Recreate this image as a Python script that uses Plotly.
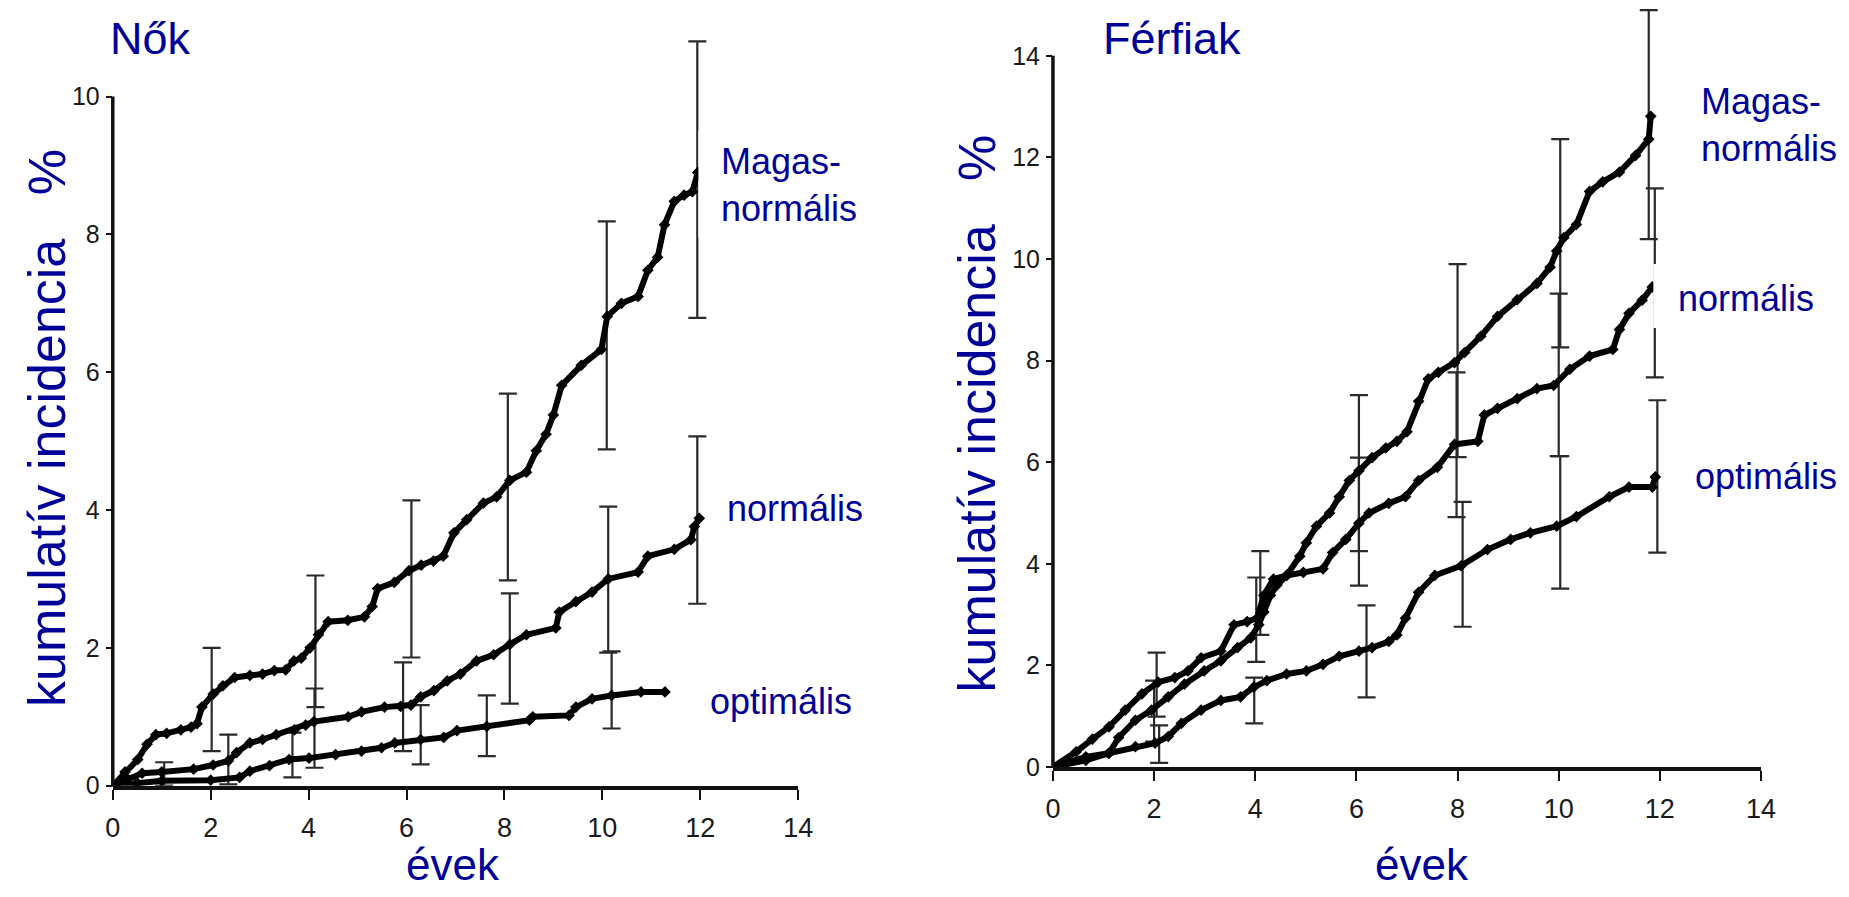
import plotly.graph_objects as go

# ------------------------------------------------------------------ data
x_ticks = [0, 2, 4, 6, 8, 10, 12, 14]
nok_y_ticks = [0, 2, 4, 6, 8, 10]
ferfi_y_ticks = [0, 2, 4, 6, 8, 10, 12, 14]

panel_titles = ["Nők", "Férfiak"]
x_title = "évek"
y_title = "kumulatív incidencia \u00a0\u00a0%"
label_magas = "Magas-<br>normális"
label_normal = "normális"
label_optimal = "optimális"

# Nők (women) – cumulative incidence curves
nok_magas_x = [0, 0.25, 0.51, 0.7, 0.88, 1.1, 1.39, 1.6, 1.72, 1.82, 2.05, 2.25, 2.49, 2.8, 3.06, 3.3,
               3.53, 3.7, 3.85, 4.03, 4.2, 4.4, 4.8, 5.14, 5.3, 5.41, 5.75, 6.05, 6.3, 6.55, 6.75, 6.97,
               7.23, 7.57, 7.84, 8.11, 8.45, 8.65, 8.85, 9.0, 9.17, 9.57, 9.98, 10.1, 10.39, 10.73, 10.93,
               11.13, 11.27, 11.47, 11.67, 11.84, 11.95]
nok_magas_y = [0, 0.2, 0.38, 0.6, 0.74, 0.76, 0.81, 0.85, 0.9, 1.14, 1.33, 1.45, 1.57, 1.6, 1.62, 1.67,
               1.68, 1.81, 1.85, 2.0, 2.19, 2.38, 2.4, 2.45, 2.6, 2.86, 2.95, 3.12, 3.2, 3.26, 3.33, 3.67,
               3.86, 4.1, 4.19, 4.43, 4.55, 4.86, 5.1, 5.38, 5.81, 6.1, 6.33, 6.81, 7.0, 7.1, 7.48,
               7.67, 8.14, 8.48, 8.57, 8.62, 8.9]

nok_normal_x = [0, 0.3, 0.6, 1.0, 1.65, 2.05, 2.36, 2.53, 2.8, 3.06, 3.34, 3.71, 3.94, 4.11, 4.81, 5.08,
                5.55, 5.88, 6.09, 6.29, 6.56, 6.83, 7.1, 7.43, 7.78, 8.11, 8.45, 9.05, 9.12, 9.46, 9.79,
                10.12, 10.73, 10.93, 11.47, 11.81, 11.88, 11.98]
nok_normal_y = [0, 0.1, 0.18, 0.2, 0.24, 0.3, 0.36, 0.48, 0.62, 0.67, 0.74, 0.81, 0.88, 0.93, 1.0, 1.07,
                1.14, 1.15, 1.17, 1.29, 1.38, 1.52, 1.62, 1.81, 1.9, 2.05, 2.19, 2.29, 2.52, 2.67, 2.81,
                3.0, 3.1, 3.33, 3.43, 3.57, 3.76, 3.88]

nok_optimal_x = [0, 0.5, 1.0, 2.0, 2.59, 2.8, 3.2, 3.6, 4.01, 4.55, 5.08, 5.49, 5.76, 6.29, 6.76, 7.03,
                 7.64, 8.51, 8.58, 9.32, 9.46, 9.79, 10.19, 10.79, 11.28]
nok_optimal_y = [0, 0.04, 0.07, 0.08, 0.12, 0.21, 0.29, 0.38, 0.4, 0.45, 0.5, 0.55, 0.62, 0.67, 0.7, 0.8,
                 0.86, 0.95, 1.0, 1.02, 1.14, 1.26, 1.31, 1.36, 1.36]

# Nők – confidence intervals (x, lower, upper)
nok_magas_err_x = [2.02, 4.14, 6.1, 8.07, 10.09, 11.94]
nok_magas_err_lo = [0.5, 1.14, 1.86, 2.98, 4.88, 6.79]
nok_magas_err_hi = [2.0, 3.05, 4.14, 5.69, 8.19, 10.8]

nok_normal_err_x = [2.36, 4.12, 5.93, 8.11, 10.12, 11.94]
nok_normal_err_lo = [0.02, 0.26, 0.5, 1.19, 1.93, 2.64]
nok_normal_err_hi = [0.74, 1.41, 1.79, 2.79, 4.05, 5.07]

nok_optimal_err_x = [1.05, 3.67, 6.29, 7.64, 10.19]
nok_optimal_err_lo = [0.0, 0.12, 0.31, 0.43, 0.83]
nok_optimal_err_hi = [0.34, 0.77, 1.17, 1.31, 1.95]

# Férfiak (men) – cumulative incidence curves
ferfi_magas_x = [0, 0.65, 1.11, 1.3, 1.63, 1.95, 2.28, 2.6, 2.99, 3.32, 3.65, 3.91, 4.07, 4.17, 4.3, 4.43,
                 4.62, 4.88, 5.01, 5.21, 5.47, 5.66, 5.86, 6.05, 6.31, 6.58, 6.8, 7.0, 7.23, 7.42, 7.62,
                 7.94, 8.14, 8.46, 8.79, 9.18, 9.57, 9.83, 9.96, 10.1, 10.35, 10.61, 10.87, 11.2, 11.52,
                 11.78, 11.82]
ferfi_magas_y = [0, 0.13, 0.27, 0.58, 0.92, 1.12, 1.38, 1.63, 1.89, 2.09, 2.35, 2.54, 2.8, 3.05, 3.38, 3.58,
                 3.77, 4.15, 4.41, 4.74, 5.0, 5.32, 5.64, 5.83, 6.09, 6.28, 6.41, 6.6, 7.2, 7.64, 7.77,
                 7.96, 8.16, 8.48, 8.87, 9.2, 9.52, 9.84, 10.16, 10.42, 10.68, 11.33, 11.52, 11.71, 12.04,
                 12.36, 12.81]

ferfi_normal_x = [0, 0.46, 0.78, 1.11, 1.43, 1.76, 2.08, 2.41, 2.67, 2.93, 3.32, 3.58, 3.84, 4.04, 4.17,
                  4.36, 4.62, 4.95, 5.34, 5.53, 5.79, 6.05, 6.25, 6.64, 6.97, 7.23, 7.6, 7.94, 8.4, 8.53,
                  8.79, 9.18, 9.57, 9.9, 10.22, 10.61, 11.07, 11.2, 11.39, 11.65, 11.85]
ferfi_normal_y = [0, 0.3, 0.55, 0.79, 1.12, 1.44, 1.67, 1.76, 1.89, 2.15, 2.28, 2.8, 2.86, 2.93, 3.38,
                  3.7, 3.77, 3.83, 3.9, 4.22, 4.48, 4.8, 5.0, 5.19, 5.32, 5.64, 5.9, 6.35, 6.41, 6.93,
                  7.06, 7.25, 7.45, 7.51, 7.83, 8.09, 8.22, 8.61, 8.93, 9.19, 9.45]

ferfi_optimal_x = [0, 0.65, 1.1, 1.63, 2.02, 2.28, 2.54, 2.93, 3.32, 3.71, 3.97, 4.23, 4.62, 5.01, 5.34,
                   5.66, 6.05, 6.31, 6.64, 6.8, 6.97, 7.23, 7.55, 8.07, 8.59, 9.05, 9.44, 9.96, 10.35,
                   11.0, 11.39, 11.85, 11.91]
ferfi_optimal_y = [0, 0.2, 0.27, 0.4, 0.47, 0.6, 0.86, 1.12, 1.31, 1.38, 1.57, 1.7, 1.83, 1.89, 2.02,
                   2.18, 2.28, 2.35, 2.47, 2.6, 2.93, 3.44, 3.77, 3.96, 4.28, 4.48, 4.61, 4.74, 4.93,
                   5.32, 5.51, 5.51, 5.71]

# Férfiak – confidence intervals (x, lower, upper)
ferfi_magas_err_x = [2.0, 4.1, 6.05, 8.0, 10.03, 11.78]
ferfi_magas_err_lo = [0.5, 2.6, 4.25, 6.1, 8.26, 10.39]
ferfi_magas_err_hi = [1.7, 4.25, 7.32, 9.9, 12.36, 14.9]

ferfi_normal_err_x = [2.05, 4.02, 6.05, 7.98, 10.0, 11.9]
ferfi_normal_err_lo = [0.99, 2.07, 3.57, 4.92, 6.12, 7.67]
ferfi_normal_err_hi = [2.25, 3.73, 6.09, 7.77, 9.32, 11.39]

ferfi_optimal_err_x = [2.1, 3.98, 6.2, 8.1, 10.03, 11.95]
ferfi_optimal_err_lo = [0.08, 0.86, 1.37, 2.76, 3.51, 4.22]
ferfi_optimal_err_hi = [0.82, 1.76, 3.18, 5.22, 6.12, 7.22]

# ------------------------------------------------------------------ layout helpers
W, H = 1849, 897


def px(x):
    return x / W


def py(y):
    return 1 - y / H


BLUE = "#000099"
TXT_FONT = "Liberation Sans, Arial, Helvetica, sans-serif"
TICK_FONT = "Liberation Sans, Arial, sans-serif"
INK = "#111111"

fig = go.Figure()


def add_err(xs, lo, hi, xa, ya):
    mid = [(a + b) / 2 for a, b in zip(lo, hi)]
    fig.add_trace(go.Scatter(
        x=xs, y=mid, mode="markers", xaxis=xa, yaxis=ya,
        marker=dict(size=1, color="rgba(0,0,0,0)"),
        error_y=dict(type="data", symmetric=False,
                     array=[h - m for h, m in zip(hi, mid)],
                     arrayminus=[m - l for m, l in zip(mid, lo)],
                     color="#2a2a2a", thickness=2.2, width=9),
        showlegend=False, hoverinfo="skip"))


def add_curve(xs, ys, xa, ya):
    fig.add_trace(go.Scatter(
        x=xs, y=ys, mode="lines+markers", xaxis=xa, yaxis=ya,
        line=dict(color="black", width=6),
        marker=dict(symbol="diamond", size=9, color="black"),
        showlegend=False, hoverinfo="skip"))


add_err(nok_magas_err_x, nok_magas_err_lo, nok_magas_err_hi, "x", "y")
add_err(nok_normal_err_x, nok_normal_err_lo, nok_normal_err_hi, "x", "y")
add_err(nok_optimal_err_x, nok_optimal_err_lo, nok_optimal_err_hi, "x", "y")
add_curve(nok_magas_x, nok_magas_y, "x", "y")
add_curve(nok_normal_x, nok_normal_y, "x", "y")
add_curve(nok_optimal_x, nok_optimal_y, "x", "y")

add_err(ferfi_magas_err_x, ferfi_magas_err_lo, ferfi_magas_err_hi, "x2", "y2")
add_err(ferfi_normal_err_x, ferfi_normal_err_lo, ferfi_normal_err_hi, "x2", "y2")
add_err(ferfi_optimal_err_x, ferfi_optimal_err_lo, ferfi_optimal_err_hi, "x2", "y2")
add_curve(ferfi_magas_x, ferfi_magas_y, "x2", "y2")
add_curve(ferfi_normal_x, ferfi_normal_y, "x2", "y2")
add_curve(ferfi_optimal_x, ferfi_optimal_y, "x2", "y2")

# pixel geometry of the two panels
L_X0, L_X1, L_Y0, L_UNIT = 98, 792, 790, 70.0
R_X0, R_X1, R_Y0, R_UNIT = 1050, 1767, 771, 51.6
L_TOP = 11.2
R_TOP = R_Y0 / R_UNIT

xaxis_common = dict(range=[0, 14], tickvals=x_ticks, ticks="outside", ticklen=10, tickwidth=2,
                    tickcolor=INK, showline=True, linewidth=4, linecolor=INK, showgrid=False,
                    zeroline=False, ticklabelstandoff=5,
                    tickfont=dict(family=TICK_FONT, size=27, color="#1a1a1a"))
yaxis_common = dict(ticks="outside", ticklen=6, tickwidth=2, tickcolor=INK, showline=False,
                    showgrid=False, zeroline=False, ticklabelstandoff=1,
                    tickfont=dict(family=TICK_FONT, size=25, color="#1a1a1a"))

fig.update_layout(
    width=W, height=H, autosize=False,
    margin=dict(l=0, r=0, t=0, b=0),
    paper_bgcolor="white", plot_bgcolor="white",
    hovermode=False,
    xaxis=dict(domain=[px(L_X0), px(L_X1)], anchor="y", **xaxis_common),
    yaxis=dict(domain=[py(L_Y0), py(L_Y0 - L_TOP * L_UNIT)], anchor="x",
               range=[0, L_TOP], tickvals=nok_y_ticks, **yaxis_common),
    xaxis2=dict(domain=[px(R_X0), px(R_X1)], anchor="y2", **xaxis_common),
    yaxis2=dict(domain=[py(R_Y0), 1.0], anchor="x2",
                range=[0, R_TOP], tickvals=ferfi_y_ticks, **yaxis_common),
)

shapes = [
    # y-axis lines (only up to the last tick, as in the original)
    dict(type="line", xref="paper", yref="paper", x0=px(L_X0), x1=px(L_X0),
         y0=py(L_Y0 + 1), y1=py(L_Y0 - 10 * L_UNIT), line=dict(color=INK, width=3.5)),
    dict(type="line", xref="paper", yref="paper", x0=px(R_X0), x1=px(R_X0),
         y0=py(R_Y0 + 1), y1=py(R_Y0 - 14 * R_UNIT), line=dict(color=INK, width=3.5)),
]
# white label boxes (they cover parts of the error bars)
for (bx0, by0, bx1, by1) in [(691, 125, 885, 233), (707, 478, 880, 540), (692, 680, 880, 728),
                             (1684, 65, 1849, 170), (1658, 260, 1849, 325), (1683, 445, 1849, 510)]:
    shapes.append(dict(type="rect", xref="paper", yref="paper", layer="above",
                       x0=px(bx0), x1=px(bx1), y0=py(by1), y1=py(by0),
                       fillcolor="white", line=dict(width=0)))
fig.update_layout(shapes=shapes)

ann = []


def text(t, x, y, size, xanchor="left", angle=0):
    ann.append(dict(text=t, x=px(x), y=py(y), xref="paper", yref="paper",
                    xanchor=xanchor, yanchor="middle", showarrow=False, align="left",
                    textangle=angle, font=dict(family=TXT_FONT, size=size, color=BLUE)))


text(panel_titles[0], 93, 31, 45)
text(panel_titles[1], 1099, 31, 45)
text(x_title, 443, 870, 44, xanchor="center")
text(x_title, 1424, 870, 44, xanchor="center")
text(y_title, 32, 427, 52, xanchor="center", angle=-90)
text(y_title, 973, 412, 52, xanchor="center", angle=-90)
text(label_magas, 712, 180, 36)
text(label_normal, 718, 508, 36)
text(label_optimal, 701, 704, 36)
text(label_magas, 1704, 119, 36)
text(label_normal, 1681, 295, 36)
text(label_optimal, 1698, 476, 36)
fig.update_layout(annotations=ann)

fig.write_html("out.html")
